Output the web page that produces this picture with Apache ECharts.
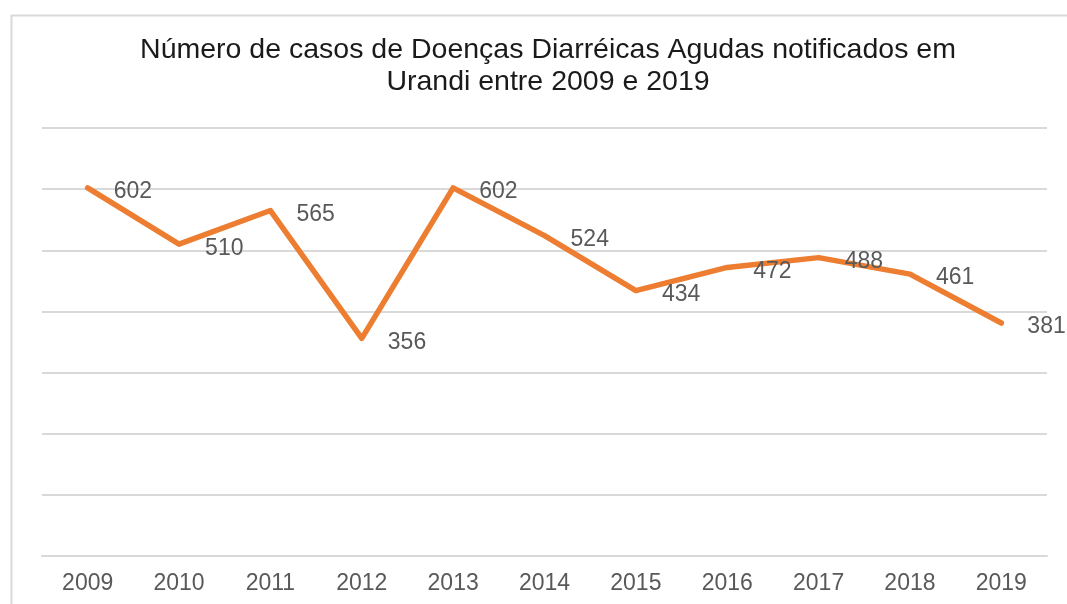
<!DOCTYPE html>
<html>
<head>
<meta charset="utf-8">
<script src="https://cdn.jsdelivr.net/npm/echarts@6/dist/echarts.min.js"></script>
<style>
  html, body { margin: 0; padding: 0; background: #ffffff; }
  #chart { width: 1067px; height: 604px; }
</style>
</head>
<body>
<div id="chart"></div>
<script>
// Casos notificados de Doenças Diarréicas Agudas, Urandi
const years = ['2009', '2010', '2011', '2012', '2013', '2014', '2015', '2016', '2017', '2018', '2019'];
const cases = [602, 510, 565, 356, 602, 524, 434, 472, 488, 461, 381];
const titleText = 'Número de casos de Doenças Diarréicas Agudas notificados em\nUrandi entre 2009 e 2019';

const FONT = '"Liberation Sans", Arial, sans-serif';
const chart = echarts.init(document.getElementById('chart'), null, { renderer: 'canvas' });

chart.setOption({
  backgroundColor: '#ffffff',
  animation: false,
  graphic: [{
    type: 'rect',
    left: 9, top: 13,
    shape: { width: 1100, height: 700 },
    style: { fill: 'none', stroke: '#d9d9d9', lineWidth: 2 },
    silent: true
  }],
  title: {
    text: titleText,
    left: 543,
    top: 29,
    textAlign: 'center',
    textStyle: {
      fontFamily: FONT,
      fontSize: 28.5,
      fontWeight: 'normal',
      color: '#1a1a1a',
      lineHeight: 32
    }
  },
  grid: { left: 42, right: 20, top: 128, bottom: 48, containLabel: false },
  xAxis: {
    type: 'category',
    data: years,
    boundaryGap: true,
    axisLine: { show: true, lineStyle: { color: '#d9d9d9', width: 2 } },
    axisTick: { show: false },
    axisLabel: { margin: 16, fontFamily: FONT, fontSize: 23, color: '#595959' },
    splitLine: { show: false }
  },
  yAxis: {
    type: 'value',
    min: 0, max: 700, interval: 100,
    axisLine: { show: false },
    axisTick: { show: false },
    axisLabel: { show: false },
    splitLine: { show: true, lineStyle: { color: '#d9d9d9', width: 2 } }
  },
  series: [{
    type: 'line',
    data: cases,
    showSymbol: true,
    symbol: 'circle',
    symbolSize: 0.1,
    itemStyle: { color: 'rgba(0,0,0,0)', borderWidth: 0 },
    lineStyle: { color: '#ED7D31', width: 5.5, cap: 'round', join: 'round' },
    label: {
      show: true,
      position: 'right',
      distance: 26,
      fontFamily: FONT,
      fontSize: 23,
      color: '#595959'
    },
    labelLayout: { hideOverlap: false, dy: 4 },
    z: 3
  }]
});
</script>
</body>
</html>
